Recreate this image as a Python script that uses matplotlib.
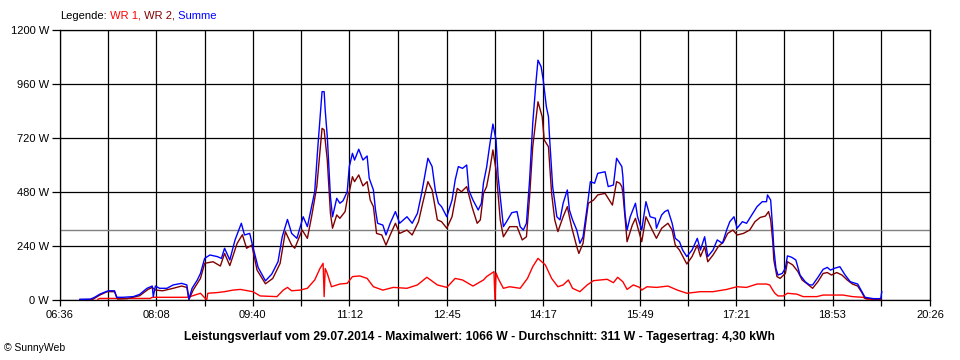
import matplotlib
matplotlib.use('Agg')
import matplotlib.pyplot as plt
from matplotlib.ticker import FixedLocator, NullFormatter

plt.rcParams['font.family'] = ['Liberation Sans', 'DejaVu Sans']

# x axis labels (every second grid line is labelled)
tick_labels = ["06:36", "08:08", "09:40", "11:12", "12:45",
               "14:17", "15:49", "17:21", "18:53", "20:26"]
y_ticks = [0, 240, 480, 720, 960, 1200]
average_w = 311

title = ("Leistungsverlauf vom 29.07.2014 - Maximalwert: 1066 W - "
         "Durchschnitt: 311 W - Tagesertrag: 4,30 kWh")

# WR 1
wr1_times = ["07:12", "07:14", "08:02", "08:04", "08:37", "08:40", "08:50", "08:56", "08:57", "09:06",
             "09:13", "09:21", "09:28", "09:40", "09:47", "10:03", "10:09", "10:13", "10:17", "10:25",
             "10:32", "10:39", "10:44", "10:47", "10:48", "10:49", "10:51", "10:55", "11:03", "11:10",
             "11:15", "11:22", "11:29", "11:35", "11:44", "11:54", "12:07", "12:17", "12:26", "12:36",
             "12:45", "12:53", "13:00", "13:10", "13:20", "13:23", "13:30", "13:31", "13:32", "13:34",
             "13:39", "13:45", "13:55", "14:02", "14:07", "14:12", "14:19", "14:25", "14:31", "14:36",
             "14:41", "14:45", "14:52", "14:59", "15:05", "15:18", "15:24", "15:28", "15:33", "15:37",
             "15:43", "15:49", "15:51", "15:56", "16:05", "16:16", "16:25", "16:34", "16:47", "16:59",
             "17:12", "17:22", "17:31", "17:41", "17:50", "17:53", "17:56", "17:58", "18:01", "18:06",
             "18:10", "18:19", "18:25", "18:38", "18:44", "19:03", "19:12", "19:22", "19:26", "19:39"]
wr1_watts = [3, 7, 7, 12, 12, 15, 30, 0, 30, 33,
             37, 44, 47, 37, 18, 15, 44, 56, 41, 44,
             52, 89, 140, 163, 15, 140, 118, 59, 71, 74,
             104, 107, 96, 59, 44, 56, 52, 67, 101, 67,
             56, 96, 89, 62, 89, 104, 126, 0, 120, 96,
             52, 59, 52, 96, 148, 185, 156, 96, 59, 67,
             89, 52, 37, 67, 86, 92, 77, 101, 81, 47,
             67, 56, 44, 59, 56, 62, 44, 30, 37, 37,
             47, 59, 56, 71, 71, 67, 44, 30, 18, 18,
             30, 26, 15, 15, 22, 22, 15, 12, 4, 2]

# WR 2
wr2_times = ["06:55", "07:07", "07:14", "07:21", "07:28", "07:31", "07:40", "07:52", "08:00", "08:04",
             "08:07", "08:14", "08:24", "08:32", "08:37", "08:39", "08:43", "08:50", "08:54", "09:02",
             "09:09", "09:13", "09:18", "09:25", "09:30", "09:34", "09:39", "09:44", "09:52", "09:59",
             "10:06", "10:11", "10:17", "10:20", "10:27", "10:32", "10:36", "10:41", "10:46", "10:48",
             "10:51", "10:54", "10:56", "11:00", "11:03", "11:08", "11:11", "11:12", "11:15", "11:17",
             "11:21", "11:25", "11:29", "11:32", "11:35", "11:38", "11:43", "11:47", "11:51", "11:56",
             "12:00", "12:07", "12:12", "12:18", "12:22", "12:27", "12:31", "12:36", "12:40", "12:45",
             "12:50", "12:55", "12:59", "13:04", "13:09", "13:14", "13:17", "13:20", "13:23", "13:26",
             "13:29", "13:32", "13:36", "13:39", "13:45", "13:52", "13:57", "14:01", "14:04", "14:07",
             "14:12", "14:16", "14:18", "14:22", "14:25", "14:28", "14:31", "14:36", "14:40", "14:44",
             "14:49", "14:51", "14:55", "15:00", "15:05", "15:09", "15:16", "15:23", "15:27", "15:30",
             "15:32", "15:33", "15:35", "15:37", "15:42", "15:45", "15:47", "15:51", "15:55", "16:01",
             "16:05", "16:10", "16:16", "16:20", "16:23", "16:27", "16:34", "16:39", "16:44", "16:47",
             "16:51", "16:54", "16:59", "17:04", "17:09", "17:13", "17:18", "17:22", "17:28", "17:34",
             "17:39", "17:44", "17:49", "17:52", "17:54", "17:56", "17:57", "18:00", "18:03", "18:08",
             "18:10", "18:15", "18:20", "18:24", "18:29", "18:34", "18:39", "18:44", "18:48", "18:52",
             "18:57", "19:02", "19:07", "19:12", "19:17", "19:21", "19:24", "19:32", "19:39"]
wr2_watts = [2, 2, 22, 37, 37, 4, 6, 19, 47, 56,
             44, 41, 52, 62, 56, 2, 44, 96, 163, 170,
             151, 207, 153, 252, 290, 230, 244, 133, 72, 96,
             163, 304, 244, 230, 311, 274, 370, 504, 763, 756,
             622, 385, 319, 378, 363, 393, 474, 481, 548, 526,
             556, 507, 526, 444, 415, 296, 289, 244, 289, 341,
             296, 311, 289, 348, 430, 526, 489, 356, 348, 319,
             370, 496, 481, 504, 415, 341, 356, 474, 504, 578,
             667, 578, 356, 281, 326, 326, 267, 281, 459, 681,
             881, 815, 711, 681, 474, 356, 304, 370, 415, 326,
             237, 207, 252, 430, 444, 467, 474, 422, 526, 519,
             504, 474, 370, 259, 333, 363, 326, 259, 370, 311,
             274, 319, 341, 311, 244, 222, 160, 193, 244, 193,
             237, 170, 200, 237, 259, 296, 311, 289, 296, 311,
             348, 367, 373, 393, 356, 259, 178, 104, 96, 118,
             170, 156, 126, 89, 71, 52, 81, 118, 122, 111,
             122, 111, 89, 71, 62, 33, 7, 4, 4]

# Summe
sum_times = ["06:55", "07:05", "07:09", "07:14", "07:22", "07:28", "07:30", "07:36", "07:46", "07:52",
             "07:59", "08:04", "08:05", "08:07", "08:11", "08:18", "08:24", "08:32", "08:37", "08:39",
             "08:42", "08:47", "08:50", "08:54", "08:59", "09:06", "09:10", "09:13", "09:18", "09:23",
             "09:29", "09:32", "09:37", "09:40", "09:45", "09:52", "09:58", "10:04", "10:08", "10:13",
             "10:17", "10:22", "10:28", "10:32", "10:36", "10:39", "10:42", "10:46", "10:48", "10:49",
             "10:51", "10:54", "10:56", "11:00", "11:03", "11:06", "11:10", "11:12", "11:15", "11:17",
             "11:21", "11:25", "11:29", "11:31", "11:35", "11:37", "11:39", "11:44", "11:47", "11:51",
             "11:56", "12:00", "12:07", "12:12", "12:17", "12:21", "12:25", "12:27", "12:31", "12:34",
             "12:37", "12:40", "12:45", "12:50", "12:53", "12:56", "13:00", "13:04", "13:06", "13:10",
             "13:15", "13:18", "13:20", "13:23", "13:26", "13:29", "13:32", "13:34", "13:37", "13:39",
             "13:42", "13:47", "13:52", "13:55", "13:58", "14:01", "14:04", "14:07", "14:10", "14:12",
             "14:15", "14:17", "14:20", "14:22", "14:23", "14:26", "14:30", "14:33", "14:36", "14:40",
             "14:42", "14:45", "14:49", "14:52", "14:55", "14:59", "15:02", "15:06", "15:09", "15:16",
             "15:19", "15:24", "15:27", "15:32", "15:33", "15:35", "15:37", "15:40", "15:45", "15:47",
             "15:51", "15:55", "15:59", "16:04", "16:05", "16:10", "16:13", "16:16", "16:20", "16:23",
             "16:27", "16:30", "16:34", "16:39", "16:44", "16:47", "16:51", "16:54", "16:59", "17:03",
             "17:08", "17:12", "17:15", "17:19", "17:22", "17:27", "17:31", "17:36", "17:41", "17:46",
             "17:50", "17:51", "17:54", "17:56", "17:57", "17:59", "18:01", "18:05", "18:08", "18:10",
             "18:14", "18:18", "18:22", "18:27", "18:31", "18:34", "18:39", "18:44", "18:48", "18:51",
             "18:55", "19:00", "19:05", "19:10", "19:17", "19:21", "19:24", "19:32", "19:39", "19:40"]
sum_watts = [3, 4, 12, 26, 41, 41, 12, 12, 15, 25,
             52, 62, 15, 62, 52, 52, 67, 74, 67, 4,
             52, 89, 118, 185, 200, 193, 185, 230, 178, 267,
             341, 289, 296, 237, 145, 85, 115, 170, 281, 358,
             296, 274, 370, 326, 415, 481, 681, 926, 926, 844,
             726, 459, 370, 452, 430, 441, 481, 593, 652, 622,
             670, 622, 640, 541, 489, 400, 341, 333, 289, 341,
             393, 341, 370, 341, 385, 474, 578, 630, 593, 489,
             430, 415, 370, 444, 533, 593, 585, 600, 489, 444,
             400, 430, 520, 590, 690, 782, 711, 548, 415, 326,
             348, 388, 393, 326, 311, 341, 533, 785, 963, 1066,
             1037, 978, 859, 815, 726, 504, 370, 356, 430, 489,
             400, 356, 311, 252, 281, 415, 526, 519, 563, 570,
             504, 511, 630, 593, 548, 385, 311, 370, 430, 370,
             311, 437, 370, 363, 319, 378, 393, 400, 341, 274,
             259, 222, 193, 222, 274, 222, 281, 193, 222, 267,
             252, 311, 348, 370, 319, 348, 341, 378, 415, 437,
             437, 467, 444, 311, 230, 140, 111, 118, 141, 196,
             190, 178, 111, 81, 67, 67, 100, 136, 145, 133,
             141, 148, 111, 81, 71, 37, 12, 6, 6, 37]


def to_minutes(hhmm):
    h, m = hhmm.split(':')
    return int(h) * 60 + int(m)


def draw_colored_text(fig, parts, x, y, **kw):
    # put text pieces one after another, each in its own colour
    renderer = fig.canvas.get_renderer()
    for text, color in parts:
        t = fig.text(x, y, text, color=color, va='center', ha='left', **kw)
        x = t.get_window_extent(renderer).x1 / fig.bbox.width


fig = plt.figure(figsize=(9.6, 3.6), dpi=100)
ax = fig.add_axes([60 / 960, 60 / 360, 870 / 960, 270 / 360])

major_x = [to_minutes(t) for t in tick_labels]
minor_x = [(a + b) / 2 for a, b in zip(major_x[:-1], major_x[1:])]
ax.set_xlim(major_x[0], major_x[-1])
ax.set_ylim(y_ticks[0], y_ticks[-1])

ax.xaxis.set_major_locator(FixedLocator(major_x))
ax.xaxis.set_minor_locator(FixedLocator(minor_x))
ax.xaxis.set_minor_formatter(NullFormatter())
ax.set_xticklabels(tick_labels)
ax.set_yticks(y_ticks)
ax.set_yticklabels([f"{v} W" for v in y_ticks])

ax.grid(which='both', axis='x', color='black', lw=0.9)
ax.grid(which='major', axis='y', color='black', lw=0.9)
ax.set_axisbelow(True)
ax.tick_params(axis='x', which='both', length=4.5, width=0.9, pad=2.5,
               labelsize=8, direction='out')
ax.tick_params(axis='y', length=6, width=0.9, pad=2, labelsize=8)
for s in ax.spines.values():
    s.set_color('black')
    s.set_linewidth(0.9)

ax.axhline(average_w, color='#808080', lw=1.0, zorder=1.5)

ax.plot([to_minutes(t) for t in wr1_times], wr1_watts, color='#ff0000',
        lw=1.0, zorder=3)
ax.plot([to_minutes(t) for t in wr2_times], wr2_watts, color='#800000',
        lw=1.0, zorder=3)
ax.plot([to_minutes(t) for t in sum_times], sum_watts, color='#0000ff',
        lw=1.0, zorder=3)

draw_colored_text(fig, [("Legende:", 'black'), (" WR 1,", '#ff0000'),
                        (" WR 2,", '#800000'), (" Summe", '#0000ff')],
                  60 / 960, 1 - 16 / 360, fontsize=8)

fig.text(479 / 960, 1 - 337 / 360, title, ha='center', va='center',
         fontsize=8.7, fontweight='bold')
fig.text(4 / 960, 1 - 348 / 360, "\u00a9 SunnyWeb", ha='left', va='center',
         fontsize=7.5)

fig.savefig('out.png', dpi=100, facecolor='white')
